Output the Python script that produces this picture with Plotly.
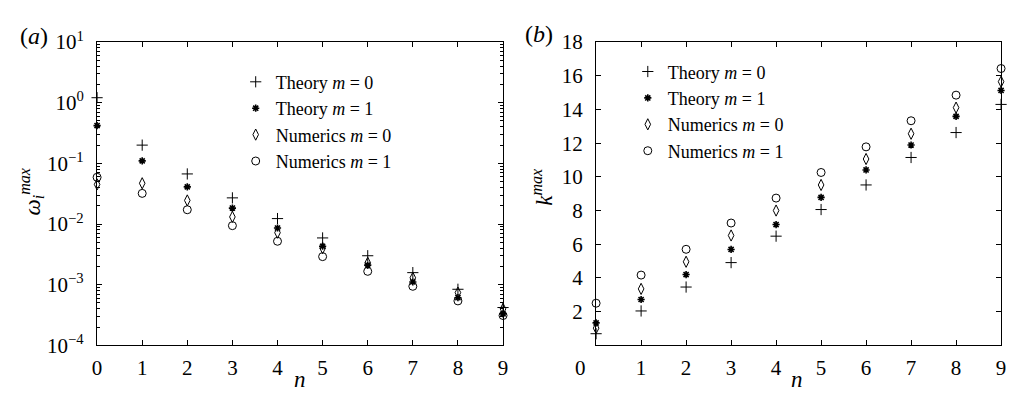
import plotly.graph_objects as go

W, H = 1013, 406

n = [0, 1, 2, 3, 4, 5, 6, 7, 8, 9]

# Panel (a): omega_i^max
omega_theory_m0 = [1.21, 0.20, 0.067, 0.027, 0.0123, 0.0059, 0.0030, 0.00158, 0.00084, 0.00042]
omega_theory_m1 = [0.42, 0.11, 0.041, 0.0183, 0.0086, 0.0043, 0.0021, 0.00111, 0.00061, 0.00033]
omega_num_m0 = [0.045, 0.047, 0.0245, 0.0131, 0.0072, 0.0040, 0.0023, 0.0013, 0.00074, 0.00040]
omega_num_m1 = [0.059, 0.032, 0.0172, 0.0094, 0.0052, 0.0029, 0.00166, 0.00094, 0.00054, 0.00031]

# Panel (b): k^max
k_theory_m0 = [0.69, 2.04, 3.46, 4.91, 6.48, 8.06, 9.52, 11.15, 12.63, 14.3]
k_theory_m1 = [1.33, 2.72, 4.20, 5.69, 7.17, 8.78, 10.41, 11.89, 13.59, 15.13]
k_num_m0 = [1.02, 3.35, 4.96, 6.52, 8.00, 9.52, 11.06, 12.56, 14.11, 15.65]
k_num_m1 = [2.50, 4.17, 5.70, 7.26, 8.74, 10.26, 11.78, 13.33, 14.85, 16.43]

series_names = ["Theory <i>m</i> = 0", "Theory <i>m</i> = 1",
                "Numerics <i>m</i> = 0", "Numerics <i>m</i> = 1"]

log_tickvals = [1e-4, 1e-3, 1e-2, 1e-1, 1e0, 1e1]
log_ticktext = ["10<sup>−4</sup>", "10<sup>−3</sup>", "10<sup>−2</sup>",
                "10<sup>−1</sup>", "10<sup>0</sup>", "10<sup>1</sup>"]
k_tickvals = [2, 4, 6, 8, 10, 12, 14, 16, 18]
n_ticks_a = [0, 1, 2, 3, 4, 5, 6, 7, 8, 9]
n_ticks_b = [1, 2, 3, 4, 5, 6, 7, 8, 9]

FONT = "Liberation Serif, Times New Roman, DejaVu Serif, serif"
styles = [
    dict(symbol="cross-thin", size=8, line=dict(width=1, color="black"), color="black"),
    dict(symbol="asterisk", size=6, line=dict(width=1.6, color="black"), color="black"),
    dict(symbol="diamond-tall-open", size=8, line=dict(width=1, color="black"), color="black"),
    dict(symbol="circle-open", size=8, line=dict(width=1, color="black"), color="black"),
]

fig = go.Figure()
data_a = [omega_theory_m0, omega_theory_m1, omega_num_m0, omega_num_m1]
data_b = [k_theory_m0, k_theory_m1, k_num_m0, k_num_m1]
for name, ys, st in zip(series_names, data_a, styles):
    fig.add_trace(go.Scatter(x=n, y=ys, mode="markers", name=name, marker=st,
                             xaxis="x", yaxis="y", legend="legend", cliponaxis=False))
for name, ys, st in zip(series_names, data_b, styles):
    fig.add_trace(go.Scatter(x=n, y=ys, mode="markers", name=name, marker=st,
                             xaxis="x2", yaxis="y2", legend="legend2", cliponaxis=False))

def px_x(p):
    return p / W

def px_y(p):
    return 1 - p / H

ydom = [px_y(354), px_y(30)]
axis_common = dict(showline=True, linecolor="black", linewidth=1.3, mirror="ticks",
                   ticks="inside", ticklen=5, tickcolor="black", tickwidth=1,
                   showgrid=False, zeroline=False,
                   tickfont=dict(family=FONT, size=21, color="black"))

fig.update_layout(
    width=W, height=H,
    margin=dict(l=0, r=0, t=0, b=0),
    paper_bgcolor="white", plot_bgcolor="white",
    font=dict(family=FONT, size=20, color="black"),
    xaxis=dict(domain=[px_x(93), px_x(503)], range=[0, 9], anchor="y",
               tickmode="array", tickvals=n_ticks_a, ticklabelstandoff=3, **axis_common),
    yaxis=dict(domain=ydom, type="log", range=[-4, 1], anchor="x",
               tickmode="array", tickvals=log_tickvals, ticktext=log_ticktext,
               ticklabelstandoff=8,
               minor=dict(ticks="inside", ticklen=2.5, tickcolor="black", dtick="D1"),
               **axis_common),
    xaxis2=dict(domain=[px_x(597), px_x(1006)], range=[0, 9], anchor="y2",
                tickmode="array", tickvals=n_ticks_b, ticklabelstandoff=3, **axis_common),
    yaxis2=dict(domain=ydom, range=[0, 18], anchor="x2",
                tickmode="array", tickvals=k_tickvals, ticklabelstandoff=8, **axis_common),
    legend=dict(x=px_x(233), y=px_y(53), xanchor="left", yanchor="top",
                bgcolor="rgba(0,0,0,0)", font=dict(family=FONT, size=18),
                tracegroupgap=0, itemwidth=30),
    legend2=dict(x=px_x(629), y=px_y(42), xanchor="left", yanchor="top",
                 bgcolor="rgba(0,0,0,0)", font=dict(family=FONT, size=18),
                 tracegroupgap=0, itemwidth=30),
    showlegend=True,
)

ann = [
    dict(text="(<i>a</i>)", x=px_x(29), y=px_y(23), size=24),
    dict(text="(<i>b</i>)", x=px_x(539), y=px_y(21), size=24),
    dict(text="<i>n</i>", x=px_x(298), y=px_y(391), size=23),
    dict(text="<i>n</i>", x=px_x(800), y=px_y(391), size=23),
    dict(text="<i>ω</i><sub><i>i</i></sub><sup><i>max</i></sup>", x=px_x(27), y=px_y(190),
         textangle=-90, size=23),
    dict(text="<i>k</i><sup><i>max</i></sup>", x=px_x(543), y=px_y(185), textangle=-90, size=23),
]
for a in ann:
    sz = a.pop("size")
    fig.add_annotation(xref="paper", yref="paper", showarrow=False,
                       xanchor="center", yanchor="middle",
                       font=dict(family=FONT, size=sz, color="black"), **a)
# origin label of panel (b)
fig.add_annotation(xref="x2", yref="y2", x=0, y=0, text="0", showarrow=False,
                   xanchor="center", yanchor="middle",
                   xshift=-16, yshift=-23, font=dict(family=FONT, size=21, color="black"))

fig.write_html("out.html")
